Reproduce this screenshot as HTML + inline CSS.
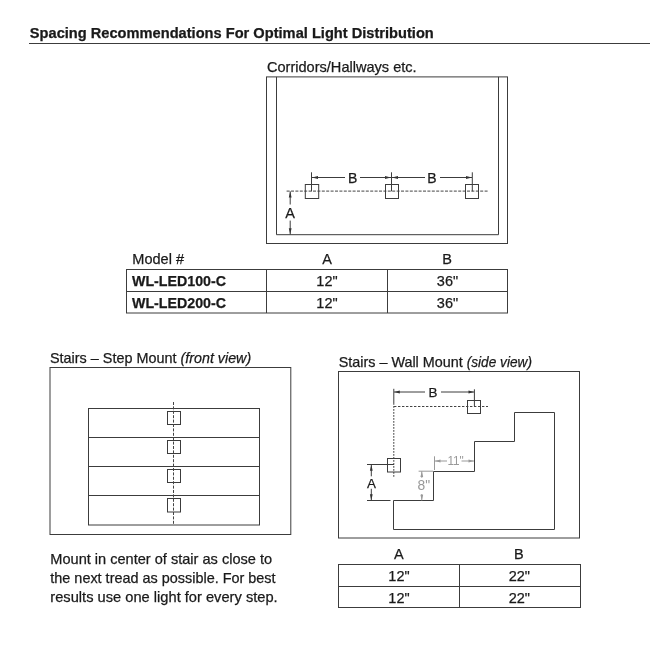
<!DOCTYPE html>
<html lang="en">
<head>
<meta charset="utf-8">
<title>Spacing Recommendations For Optimal Light Distribution</title>
<style>
html,body{margin:0;padding:0;background:#fff;}
body{width:650px;height:650px;overflow:hidden;}
svg{display:block;will-change:transform;}
text{font-family:"Liberation Sans",sans-serif;fill:#1a1a1a;stroke:#1a1a1a;stroke-width:0.25px;}
.t{font-size:14.5px;}
.b{font-weight:bold;}
.i{font-style:italic;}
.ln{stroke:#3c3c3c;stroke-width:1;fill:none;}
.dash{stroke:#444;stroke-width:1;fill:none;stroke-dasharray:3 1.4;}
.dh{stroke:#444;stroke-width:1;fill:none;stroke-dasharray:2.4 1.6;}
.dv{stroke:#444;stroke-width:1;fill:none;stroke-dasharray:1.8 1.2;}
.g{stroke:#999;stroke-width:1;fill:none;}
.gt{fill:#999;stroke:none;}
.ar{fill:#333;stroke:none;}
.gar{fill:#999;stroke:none;}
</style>
</head>
<body>
<svg width="650" height="650" viewBox="0 0 650 650">
<rect width="650" height="650" fill="#fff"/>

<!-- Title -->
<text class="b" x="29.8" y="38.4" font-size="14.2" textLength="404" lengthAdjust="spacingAndGlyphs">Spacing Recommendations For Optimal Light Distribution</text>
<line class="ln" x1="29" y1="43.5" x2="650" y2="43.5"/>

<!-- Corridors -->
<text class="t" x="267" y="71.6" textLength="149.6" lengthAdjust="spacingAndGlyphs">Corridors/Hallways etc.</text>
<rect class="ln" x="266.5" y="76.9" width="241" height="166.6"/>
<path class="ln" d="M276.5 76.9V234.7H498.5V76.9"/>
<line class="dash" x1="286.6" y1="191.1" x2="488.5" y2="191.1"/>
<rect class="ln" x="305.3" y="184.5" width="13.4" height="14"/>
<rect class="ln" x="385.5" y="184.5" width="13" height="14"/>
<rect class="ln" x="465.5" y="184.5" width="13" height="14"/>
<!-- ticks -->
<path class="ln" d="M311.5 172.3V191.3M391.5 172.3V191.3M472.3 172.3V191.3"/>
<!-- dim lines B -->
<path class="ln" d="M312 177.5H345M360 177.5H391M392 177.5H425M440 177.5H472"/>
<path class="ar" d="M312 177.5l6 -1.4v2.8zM391 177.5l-6 -1.4v2.8zM392 177.5l6 -1.4v2.8zM472 177.5l-6 -1.4v2.8z"/>
<text class="t" x="352.7" y="182.8" text-anchor="middle" style="font-size:14px">B</text>
<text class="t" x="432" y="182.8" text-anchor="middle" style="font-size:14px">B</text>
<!-- dim A -->
<path class="ln" d="M290.2 191.3V204.5M290.2 220.6V234.5"/>
<path class="ar" d="M290.2 191.4l-1.4 6h2.8zM290.2 234.2l-1.4 -6h2.8z"/>
<text class="t" x="290.2" y="217.8" text-anchor="middle">A</text>

<!-- Table 1 -->
<text class="t" x="132.3" y="264.2" textLength="51.7" lengthAdjust="spacingAndGlyphs">Model #</text>
<text class="t" x="327.2" y="264.2" text-anchor="middle">A</text>
<text class="t" x="447.2" y="264.2" text-anchor="middle">B</text>
<rect class="ln" x="126.5" y="269.5" width="381" height="43.5"/>
<path class="ln" d="M126.5 291.5H507.5M266.5 269.5V313M387.5 269.5V313"/>
<text class="t b" x="132" y="285.6" textLength="94" lengthAdjust="spacingAndGlyphs">WL-LED100-C</text>
<text class="t b" x="132" y="307.5" textLength="94" lengthAdjust="spacingAndGlyphs">WL-LED200-C</text>
<text class="t" x="327" y="285.6" text-anchor="middle">12"</text>
<text class="t" x="447.5" y="285.6" text-anchor="middle">36"</text>
<text class="t" x="327" y="307.5" text-anchor="middle">12"</text>
<text class="t" x="447.5" y="307.5" text-anchor="middle">36"</text>

<!-- Step mount -->
<text class="t" x="50" y="362.5" textLength="126.5" lengthAdjust="spacingAndGlyphs">Stairs – Step Mount</text>
<text class="t i" x="180.6" y="362.5" textLength="70.6" lengthAdjust="spacingAndGlyphs">(front view)</text>
<rect class="ln" x="50" y="367.5" width="240.8" height="167"/>
<rect class="ln" x="88.5" y="408.5" width="171" height="116.5"/>
<path class="ln" d="M88.5 437.5H259.5M88.5 466.5H259.5M88.5 495.5H259.5"/>
<rect class="ln" x="167.5" y="411.5" width="13" height="13"/>
<rect class="ln" x="167.5" y="440.5" width="13" height="13"/>
<rect class="ln" x="167.5" y="469.5" width="13" height="13"/>
<rect class="ln" x="167.5" y="498.5" width="13" height="13.5"/>
<line class="dash" x1="173.5" y1="402" x2="173.5" y2="525"/>
<text class="t" x="50.3" y="564" textLength="221.8" lengthAdjust="spacingAndGlyphs">Mount in center of stair as close to</text>
<text class="t" x="50.3" y="582.8" textLength="225.3" lengthAdjust="spacingAndGlyphs">the next tread as possible. For best</text>
<text class="t" x="50.3" y="601.5" textLength="227.4" lengthAdjust="spacingAndGlyphs">results use one light for every step.</text>

<!-- Wall mount -->
<text class="t" x="338.7" y="366.5" textLength="124" lengthAdjust="spacingAndGlyphs">Stairs – Wall Mount</text>
<text class="t i" x="466.7" y="366.5" textLength="65.3" lengthAdjust="spacingAndGlyphs">(side view)</text>
<rect class="ln" x="338.5" y="371.5" width="241" height="166.5"/>
<path class="ln" d="M393.5 529.5V500.5H433.5V471.5H474.5V441.5H514.5V412.5H554.5V529.5Z"/>
<!-- dashed -->
<path class="dv" d="M393.8 403V477.5"/>
<path class="dh" d="M394 406.5H488"/>
<rect class="ln" x="467.5" y="400.5" width="13" height="13"/>
<rect class="ln" x="387.5" y="458.5" width="13" height="13.5"/>
<path class="ln" d="M393.8 388.8V403M474.4 389.3V406.5M394 392H425M441 392H474"/>
<path class="ar" d="M394.3 392l5.5 -1.4v2.8zM474 392l-5.5 -1.4v2.8z"/>
<text class="t" x="433" y="397" text-anchor="middle" style="font-size:13.4px">B</text>
<!-- A -->
<path class="ln" d="M367 464.5H394M367 500.5H390.5M371.3 464.5V476.3M371.3 488.8V500.5"/>
<path class="ar" d="M371.3 464.8l-1.4 6h2.8zM371.3 500.2l-1.4 -6h2.8z"/>
<text class="t" x="371.5" y="487.9" text-anchor="middle" style="font-size:13.4px">A</text>
<!-- gray dims -->
<path class="g" d="M434.5 456.3V470M434.5 461H447M461.5 461H474M418.6 471.2H433M421.8 471.2V477.8M421.8 494V500.5"/>
<path class="gar" d="M435 461l5.5 -1.4v2.8zM474 461l-5.5 -1.4v2.8zM421.8 471.6l-1.4 5.5h2.8zM421.8 500.3l-1.4 -5.5h2.8z"/>
<text class="t gt" x="447.4" y="464.9" style="font-size:13.6px" textLength="16.4" lengthAdjust="spacingAndGlyphs">11"</text>
<text class="t gt" x="417.6" y="490.4" style="font-size:13.8px" textLength="12.6" lengthAdjust="spacingAndGlyphs">8"</text>

<!-- Table 2 -->
<text class="t" x="398.8" y="558.8" text-anchor="middle">A</text>
<text class="t" x="518.8" y="558.8" text-anchor="middle">B</text>
<rect class="ln" x="338.5" y="564.5" width="242" height="43"/>
<path class="ln" d="M338.5 586.5H580.5M459.5 564.5V607.5"/>
<text class="t" x="399" y="580.7" text-anchor="middle">12"</text>
<text class="t" x="519.3" y="580.7" text-anchor="middle">22"</text>
<text class="t" x="399" y="602.7" text-anchor="middle">12"</text>
<text class="t" x="519.3" y="602.7" text-anchor="middle">22"</text>
</svg>
</body>
</html>
